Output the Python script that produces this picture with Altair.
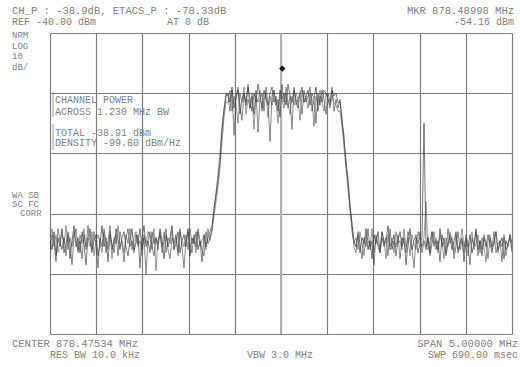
import altair as alt
import numpy as np
import pandas as pd

CENTER = 878.47534
SPAN = 5.0
N_POINTS = 232

# Sweep A (dBm)
trace_a = [
    -109,-112,-106,-114,-108,-111,-105,-113,-110,-107,
    -115,-109,-104,-111,-108,-113,-106,-110,-117,-108,
    -105,-112,-109,-107,-114,-110,-104,-111,-108,-116,
    -107,-110,-113,-105,-109,-112,-108,-106,-111,-114,
    -109,-105,-112,-110,-107,-118,-108,-104,-111,-109,
    -113,-106,-110,-108,-112,-105,-109,-115,-107,-111,
    -108,-104,-112,-110,-106,-113,-109,-107,-111,-105,
    -114,-108,-110,-106,-112,-109,-116,-107,-111,-108,
    -106,
    -104,-99,-94,-89,-83,-73,-66,-61,
    -60,-63,-58,-65,-61,-59,-67,-62,-60,-64,
    -58,-62,-66,-60,-63,-57,-61,-65,-59,-62,
    -64,-60,-58,-63,-61,-66,-59,-62,-60,-64,
    -57,-61,-63,-59,-62,-65,-60,-58,-63,-61,
    -59,-64,-60,-62,-58,-66,-61,-63,-59,-60,
    -62,-64,-59,-61,-60,-63,
    -63,-68,-76,-82,-90,-97,-104,-109,
    -111,-107,-113,-108,-110,-105,-112,-109,-115,-107,
    -110,-106,-113,-108,-111,-109,-104,-112,-110,-107,
    -114,-109,-106,-111,-108,-117,-110,-105,-112,-109,
    -107,-113,-110,-108,
    -70,
    -111,-108,-113,-106,-110,-109,-112,-105,-111,-108,
    -114,-110,-107,-112,-109,-106,-113,-110,-108,-116,
    -109,-111,-107,-113,-110,-105,-112,-109,-114,-108,
    -111,-107,-110,-113,-109,-106,-112,-110,-108,-115,
    -109,-111,-107,-110,
]

# Sweep B (dBm)
trace_b = [
    -108,-105,-111,-107,-113,-109,-106,-110,-104,-112,
    -108,-111,-106,-109,-113,-107,-110,-105,-112,-108,
    -111,-106,-114,-109,-107,-110,-113,-105,-109,-112,
    -106,-115,-108,-110,-104,-111,-109,-113,-107,-110,
    -105,-112,-108,-106,-111,-109,-114,-107,-110,-106,
    -108,-112,-105,-119,-109,-107,-111,-106,-113,-108,
    -110,-105,-112,-108,-114,-106,-109,-111,-107,-112,
    -105,-110,-108,-113,-106,-111,-109,-107,-112,-105,
    -109,
    -106,-101,-96,-91,-85,-76,-68,-63,
    -63,-59,-66,-61,-64,-70,-60,-63,-58,-67,
    -62,-65,-60,-72,-61,-63,-59,-66,-62,-60,
    -68,-61,-64,-59,-63,-70,-60,-62,-65,-58,
    -63,-67,-61,-64,-60,-62,-69,-59,-63,-61,
    -65,-60,-62,-71,-61,-64,-59,-63,-66,-60,
    -62,-65,-61,-63,-64,-66,
    -66,-71,-78,-85,-92,-99,-106,-110,
    -108,-112,-106,-110,-114,-107,-109,-111,-105,-113,
    -108,-110,-112,-106,-109,-115,-107,-111,-108,-113,
    -106,-110,-109,-112,-105,-111,-108,-114,-107,-110,
    -112,-106,-109,-111,
    -108,
    -96,
    -112,-109,-106,-111,-108,-113,-107,-110,-115,-108,
    -111,-106,-109,-113,-107,-112,-110,-105,-111,-108,
    -114,-109,-106,-112,-110,-107,-113,-108,-111,-116,
    -109,-107,-112,-110,-106,-113,-109,-111,-108,-114,
    -110,-107,-112,
]

# Sweep C (dBm)
trace_c = [
    -113,-107,-110,-116,-105,-109,-112,-108,-114,-106,
    -110,-117,-108,-105,-112,-109,-115,-107,-111,-104,
    -109,-113,-106,-110,-118,-108,-111,-106,-113,-109,
    -104,-112,-109,-107,-114,-106,-110,-116,-108,-105,
    -111,-109,-113,-107,-110,-105,-112,-108,-120,-109,
    -106,-111,-114,-108,-110,-106,-113,-109,-105,-112,
    -115,-108,-110,-107,-113,-105,-111,-118,-109,-106,
    -110,-113,-107,-111,-105,-109,-112,-114,-106,-110,
    -108,
    -105,-98,-93,-87,-80,-71,-65,-60,
    -61,-66,-59,-74,-62,-58,-64,-69,-60,-63,
    -57,-65,-61,-67,-59,-73,-62,-60,-66,-58,
    -63,-76,-61,-59,-64,-62,-68,-57,-63,-60,
    -65,-61,-72,-58,-64,-62,-60,-67,-59,-63,
    -61,-58,-66,-62,-70,-60,-64,-59,-62,-67,
    -60,-63,-58,-66,-62,-65,
    -62,-70,-74,-84,-88,-98,-103,-111,
    -113,-106,-110,-115,-108,-111,-105,-112,-109,-117,
    -107,-111,-113,-106,-110,-108,-114,-105,-112,-109,
    -111,-107,-115,-108,-110,-113,-106,-109,-112,-118,
    -108,-110,-106,-113,
    -109,
    -112,
    -108,-114,-110,-106,-112,-109,-116,-107,-111,-113,
    -105,-110,-108,-115,-111,-106,-112,-109,-113,-107,
    -110,-117,-108,-111,-106,-114,-109,-112,-107,-110,
    -115,-108,-111,-106,-113,-110,-109,-116,-107,-112,
    -110,-108,-113,
]

MKR_FREQ = 878.48998
MKR_LEVEL = -54.16

x_grid = [CENTER - SPAN / 2 + k * SPAN / 10 for k in range(11)]
y_grid = list(range(-140, -39, 10))

freq = np.linspace(CENTER - SPAN / 2, CENTER + SPAN / 2, N_POINTS)
df = pd.concat([
    pd.DataFrame({"f": freq, "dbm": trace_a, "sweep": "A"}),
    pd.DataFrame({"f": freq, "dbm": trace_b, "sweep": "B"}),
    pd.DataFrame({"f": freq, "dbm": trace_c, "sweep": "C"}),
])

xs = alt.Scale(domain=[CENTER - SPAN / 2, CENTER + SPAN / 2], nice=False, zero=False)
ys = alt.Scale(domain=[-140, -40], nice=False, zero=False)
GRID = "#7d7d7d"
xa = alt.Axis(values=x_grid, labels=False, ticks=False, domain=False, grid=True,
              gridColor=GRID, gridWidth=1.2, title=None)
ya = alt.Axis(values=y_grid, labels=False, ticks=False, domain=False, grid=True,
              gridColor=GRID, gridWidth=1.2, title=None)

traces = alt.Chart(df).mark_line(strokeWidth=1, opacity=0.6, clip=True).encode(
    x=alt.X("f:Q", scale=xs, axis=xa),
    y=alt.Y("dbm:Q", scale=ys, axis=ya),
    detail="sweep:N",
    color=alt.Color("sweep:N", scale=alt.Scale(domain=["A", "B", "C"],
                    range=["#222222", "#555555", "#3a3a3a"]), legend=None),
)

center_line = alt.Chart(pd.DataFrame({"f": [CENTER]})).mark_rule(color="#b0b0b0", strokeWidth=2).encode(
    x=alt.X("f:Q", scale=xs)
)

marker = alt.Chart(pd.DataFrame({"f": [MKR_FREQ], "dbm": [MKR_LEVEL]})).mark_point(
    shape="diamond", filled=True, color="#111111", size=40, yOffset=-7, opacity=1
).encode(x=alt.X("f:Q", scale=xs), y=alt.Y("dbm:Q", scale=ys))

FONT = "Liberation Mono"
TXT = "#808080"


def label(s, x, y, align="left", size=10):
    return alt.Chart(pd.DataFrame({"t": [s]})).mark_text(
        font=FONT, fontSize=size, color=TXT, align=align, baseline="alphabetic"
    ).encode(x=alt.value(x), y=alt.value(y), text="t:N")


texts = [
    label("CH_P : -38.9dB, ETACS_P : -78.33dB", -38, -19, size=10.5),
    label("REF  -40.00 dBm", -38, -8),
    label("AT 0 dB", 117, -8),
    label("MKR 878.48998 MHz", 464, -19, "right", size=10.5),
    label("-54.16 dBm", 464, -8, "right"),
    label("NRM", -38, 5, size=9),
    label("LOG", -38, 16, size=9),
    label("10", -38, 26, size=9),
    label("dB/", -38, 37, size=9),
    label("WA SB", -38, 165, size=9),
    label("SC FC", -38, 174, size=9),
    label("CORR", -30, 183, size=9),
    label("CHANNEL POWER", 5, 70),
    label("ACROSS 1.230 MHz BW", 5, 82),
    label("TOTAL -38.91 dBm", 5, 103),
    label("DENSITY -99.80 dBm/Hz", 5, 113),
    label("CENTER 878.47534 MHz", -38, 314, size=10.5),
    label("RES BW 10.0 kHz", 0, 325),
    label("VBW 3.0 MHz", 230, 325, "center"),
    label("SPAN 5.00000 MHz", 468, 314, "right", size=10.5),
    label("SWP 690.00 msec", 468, 325, "right"),
]

box_rule_1 = alt.Chart(pd.DataFrame({"a": [0]})).mark_rule(color="#999999", strokeWidth=1).encode(
    x=alt.value(3), y=alt.value(59), y2=alt.value(84)
)
box_rule_2 = alt.Chart(pd.DataFrame({"a": [0]})).mark_rule(color="#999999", strokeWidth=1).encode(
    x=alt.value(3), y=alt.value(91), y2=alt.value(117)
)

chart = alt.layer(center_line, traces, marker, box_rule_1, box_rule_2, *texts).properties(
    width=462, height=301,
    padding={"left": 50, "top": 33, "right": 8, "bottom": 33},
    autosize="none", background="white",
).configure_view(stroke=None)

chart.save("out.html", embed_options={"renderer": "svg", "actions": False})
